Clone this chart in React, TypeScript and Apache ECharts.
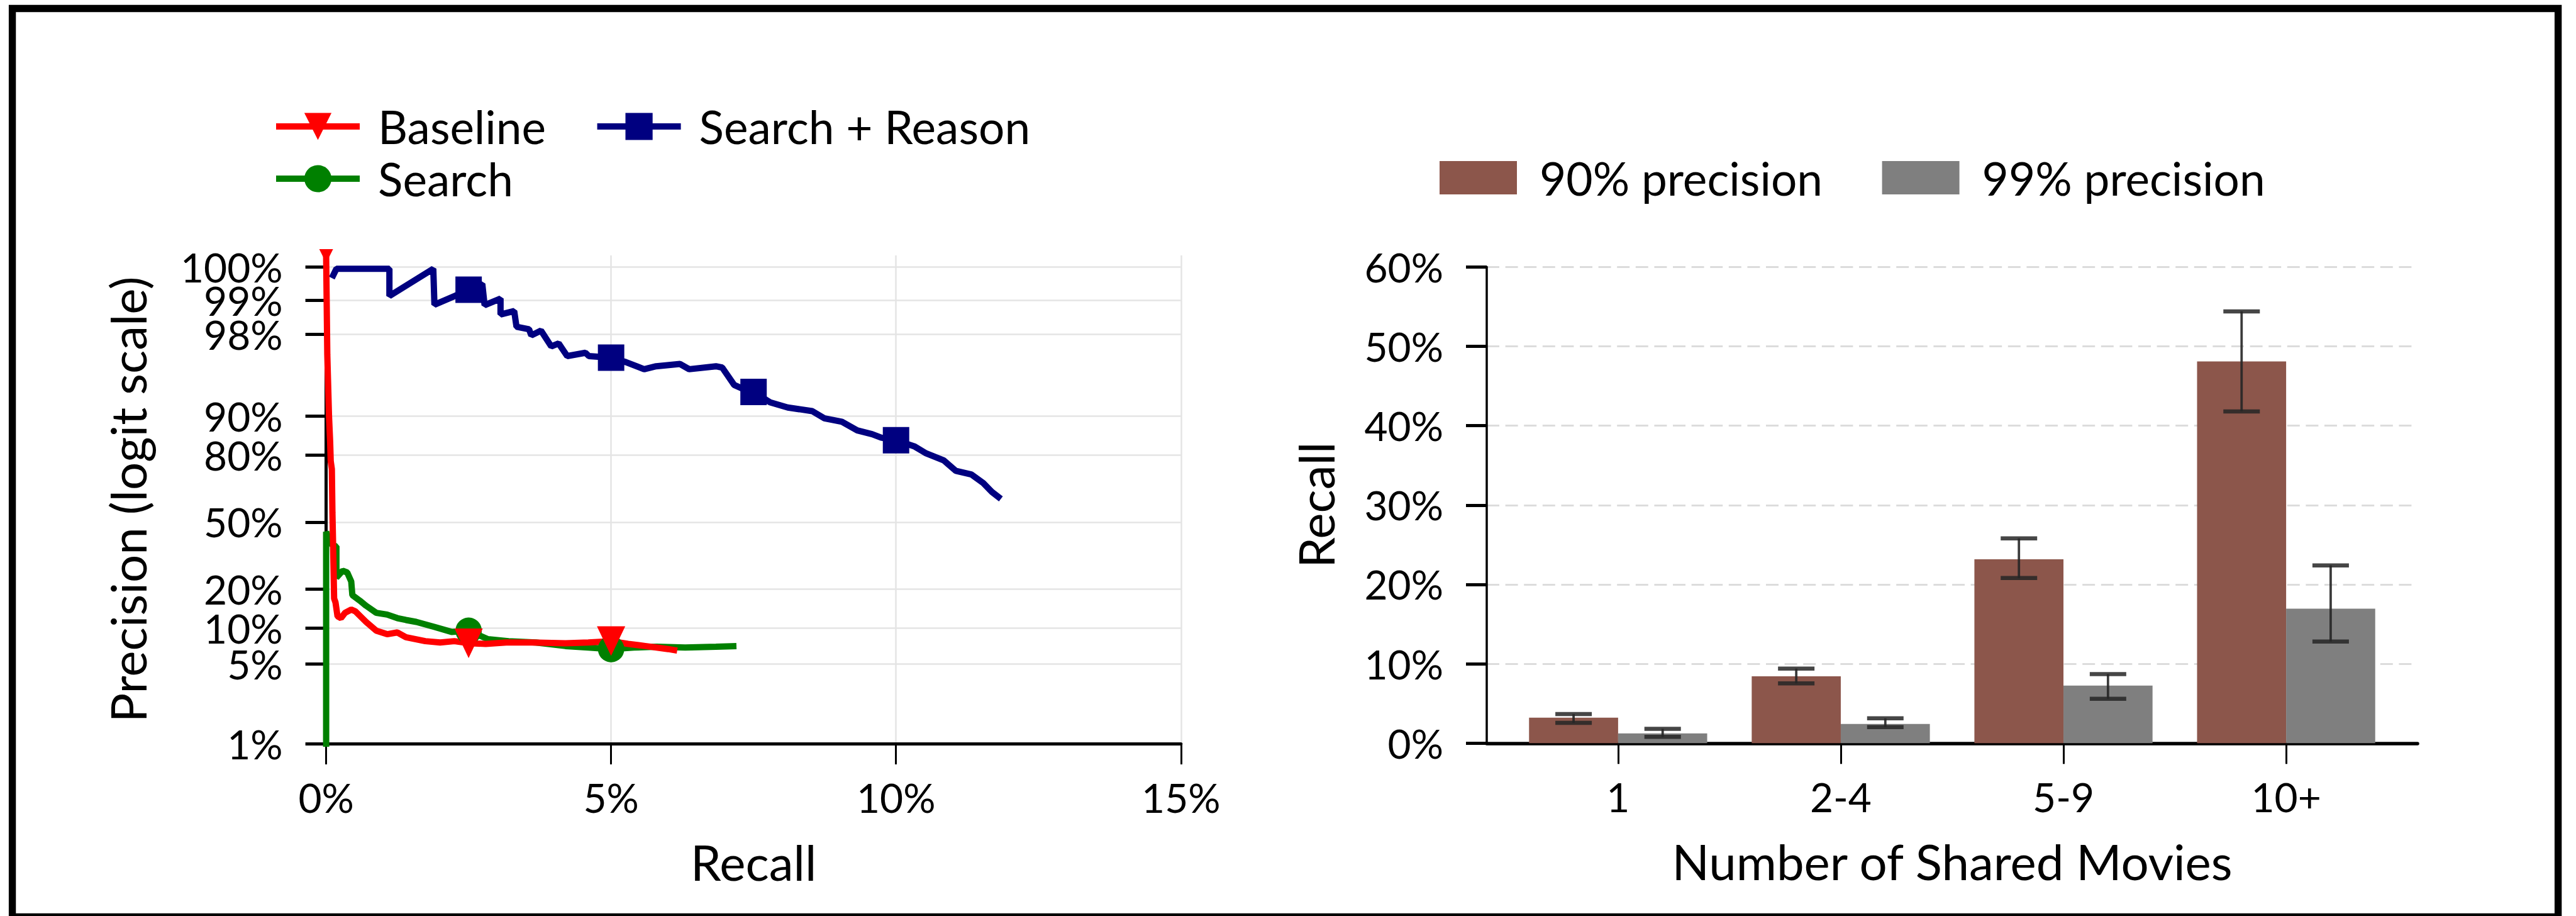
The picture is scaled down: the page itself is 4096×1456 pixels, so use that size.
import React, { useEffect, useRef } from 'react';
import * as echarts from 'echarts';

const W = 4096;
const H = 1456;
const FONT = 'Lato';

// ---------- Left panel: precision / recall curves (percent units) ----------
const searchReasonRecall = [0.1, 0.18, 1.11, 1.11, 1.88, 1.9, 2.26, 2.5, 2.74, 2.78, 3.06, 3.06, 3.3, 3.34, 3.56, 3.6, 3.77, 3.95, 4.08, 4.23, 4.55, 4.61, 5.0, 5.26, 5.58, 5.79, 6.21, 6.37, 6.84, 6.95, 7.16, 7.37, 7.5, 7.79, 8.1, 8.53, 8.74, 9.05, 9.32, 9.58, 9.74, 10.0, 10.32, 10.53, 10.84, 11.05, 11.32, 11.53, 11.68, 11.84];
const searchReasonPrecision = [99.37, 99.48, 99.48, 99.09, 99.48, 98.91, 99.09, 99.2, 99.29, 98.9, 99.04, 98.67, 98.76, 98.29, 98.2, 97.96, 98.15, 97.45, 97.6, 96.9, 97.1, 96.9, 96.8, 96.5, 95.97, 96.2, 96.37, 95.97, 96.2, 96.1, 94.5, 93.9, 93.7, 92.3, 91.5, 90.9, 89.6, 88.9, 87.0, 86.1, 85.2, 84.5, 82.8, 80.6, 78.2, 74.3, 72.9, 69.2, 65.2, 61.8];
const searchReasonMarks = [2.5, 5, 7.5, 10];

const searchRecall = [0, 0, 0.06, 0.12, 0.18, 0.18, 0.29, 0.37, 0.44, 0.46, 0.59, 0.7, 0.88, 1.07, 1.25, 1.4, 1.58, 1.9, 2.2, 2.5, 2.84, 3.2, 3.68, 4.2, 4.6, 5.0, 5.4, 5.8, 6.3, 6.84, 7.2];
const searchPrecision = [0.5, 45, 40, 38, 37.7, 24, 26.7, 26, 22.6, 18, 16.4, 15, 13.2, 12.8, 12, 11.6, 11.2, 10.2, 9.3, 9.5, 8.1, 7.8, 7.6, 7.1, 6.9, 6.7, 6.9, 7.0, 6.9, 7.0, 7.1];
const searchMarks = [2.5, 5];

const baselineRecall = [0, 0.02, 0.05, 0.07, 0.08, 0.1, 0.11, 0.12, 0.14, 0.164, 0.2, 0.26, 0.33, 0.44, 0.51, 0.7, 0.88, 1.07, 1.25, 1.4, 1.74, 2.0, 2.25, 2.5, 2.8, 3.16, 3.6, 4.2, 4.6, 5.0, 5.3, 5.6, 5.8, 6.0, 6.16];
const baselinePrecision = [99.6, 97, 90, 84, 78, 75, 55, 41, 17, 15.9, 12.4, 12.0, 13.2, 14.0, 13.6, 11.2, 9.5, 8.9, 9.2, 8.4, 7.8, 7.6, 7.8, 7.5, 7.4, 7.6, 7.6, 7.5, 7.6, 7.8, 7.4, 7.1, 6.9, 6.7, 6.5];
const baselineMarks = [0, 2.5, 5];

const precisionTickValues = [1, 5, 10, 20, 50, 80, 90, 98, 99, 99.5];
const precisionTickLabels = ['1%', '5%', '10%', '20%', '50%', '80%', '90%', '98%', '99%', '100%'];
// the crowded top labels are split across two label rows so none is auto-hidden
const precisionLabelsMain = [1, 5, 10, 20, 50, 80, 90, 99];
const precisionLabelsExtra = [98, 99.5];
const precisionTop = 99.6;

// ---------- Right panel: recall by number of shared movies (percent) ----------
const sharedCategories = ['1', '2-4', '5-9', '10+'];
const recall90 = [3.22, 8.43, 23.16, 48.1];
const recall90Low = [2.56, 7.54, 20.8, 41.8];
const recall90High = [3.66, 9.4, 25.8, 54.4];
const recall99 = [1.24, 2.43, 7.25, 16.95];
const recall99Low = [0.79, 2.03, 5.6, 12.8];
const recall99High = [1.81, 3.13, 8.7, 22.4];

// ---------- helpers ----------
const logit = (pct: number) => {
  const p = pct / 100;
  return Math.log(p / (1 - p));
};

const leftGrid = { left: 518.6, top: 406, width: 1359.2, height: 776 };
const rightGrid = { left: 2364, top: 424.3, width: 1480, height: 757 };
const rightXMin = -0.59;
const rightXMax = 3.59;
const barWidth = (rightGrid.width * 0.4) / (rightXMax - rightXMin);
const LINE_W = 10;
const yMinLeft = logit(1);
const yMaxLeft = logit(precisionTop) + 0.013;

const tickFont = { fontFamily: FONT, fontSize: 64, color: '#000' };
const titleFont = { fontFamily: FONT, fontSize: 78, color: '#000' };
const legendFont = { fontFamily: FONT, fontSize: 73, color: '#000' };

const curve = (rs: number[], ps: number[]) => rs.map((r, i) => [r, logit(ps[i])]);

const precisionLabel = (v: number) => {
  let best = 0;
  precisionTickValues.forEach((t, i) => {
    if (Math.abs(logit(t) - v) < Math.abs(logit(precisionTickValues[best]) - v)) best = i;
  });
  return precisionTickLabels[best];
};

const markSize = (marks: number[], size: any, firstSize?: any) => (val: number[]) => {
  if (firstSize !== undefined && val[0] === 0 && marks.includes(0)) return firstSize;
  return marks.includes(val[0]) ? size : 0;
};

const errorSeries = (low: number[], high: number[], sign: number) => ({
  type: 'custom',
  xAxisIndex: 1,
  yAxisIndex: 1,
  z: 5,
  data: low.map((l, i) => [i, l, high[i]]),
  encode: { x: 0, y: [1, 2] },
  renderItem: (params: any, api: any) => {
    const x = api.value(0);
    const lo = api.coord([x, api.value(1)]);
    const hi = api.coord([x, api.value(2)]);
    const cx = lo[0] + (sign * barWidth) / 2;
    const half = 29;
    const stroke = '#262626';
    return {
      type: 'group',
      children: [
        { type: 'line', shape: { x1: cx, y1: lo[1], x2: cx, y2: hi[1] }, style: { stroke, lineWidth: 3.8, opacity: 0.9 } },
        { type: 'line', shape: { x1: cx - half, y1: lo[1], x2: cx + half, y2: lo[1] }, style: { stroke, lineWidth: 6.5, opacity: 0.85 } },
        { type: 'line', shape: { x1: cx - half, y1: hi[1], x2: cx + half, y2: hi[1] }, style: { stroke, lineWidth: 6.5, opacity: 0.85 } },
      ],
    };
  },
});

const lineLegendBase = {
  orient: 'vertical',
  top: 164.5,
  padding: 0,
  itemWidth: 133,
  itemHeight: 54,
  itemGap: 10,
  selectedMode: false,
  textStyle: { ...legendFont, padding: [0, 0, 0, 24] },
  lineStyle: { width: LINE_W },
  itemStyle: { borderWidth: 0 },
};

const barLegendBase = {
  orient: 'horizontal',
  top: 246,
  padding: 0,
  itemWidth: 123,
  itemHeight: 53,
  icon: 'rect',
  selectedMode: false,
  textStyle: { ...legendFont, padding: [0, 0, 0, 31] },
  itemStyle: { borderWidth: 0 },
};

const option: any = {
  animation: false,
  backgroundColor: '#ffffff',
  textStyle: { fontFamily: FONT },
  grid: [
    { ...leftGrid, outerBoundsMode: 'none', containLabel: false },
    { ...rightGrid, outerBoundsMode: 'none', containLabel: false },
  ],
  legend: [
    { ...lineLegendBase, left: 434, data: ['Baseline', 'Search'] },
    { ...lineLegendBase, left: 944.6, data: ['Search + Reason'] },
    { ...barLegendBase, left: 2289, data: ['90% precision'] },
    { ...barLegendBase, left: 2992.6, data: ['99% precision'] },
  ],
  xAxis: [
    {
      type: 'value',
      gridIndex: 0,
      min: 0,
      max: 15,
      interval: 5,
      name: 'Recall',
      nameLocation: 'middle',
      nameGap: 148.8,
      nameMoveOverlap: false,
      nameTextStyle: titleFont,
      axisLine: { show: true, onZero: false, lineStyle: { color: '#000', width: 5 } },
      axisTick: { show: true, length: 33, lineStyle: { color: '#000', width: 3 } },
      axisLabel: { ...tickFont, margin: 53, showMinLabel: true, showMaxLabel: true, formatter: (v: number) => `${v}%` },
      splitLine: { show: true, lineStyle: { color: '#e4e4e4', width: 2.5 } },
    },
    {
      type: 'value',
      gridIndex: 1,
      min: rightXMin,
      max: rightXMax,
      name: 'Number of Shared Movies',
      nameLocation: 'middle',
      nameGap: 148.8,
      nameMoveOverlap: false,
      nameTextStyle: titleFont,
      axisLine: { show: true, onZero: false, lineStyle: { color: '#000', width: 5.5 } },
      axisTick: { show: true, length: 33, customValues: sharedCategories.map((_, i) => i), lineStyle: { color: '#000', width: 3 } },
      axisLabel: {
        ...tickFont,
        margin: 53,
        customValues: sharedCategories.map((_, i) => i),
        formatter: (v: number) => sharedCategories[Math.round(v)] ?? '',
      },
      splitLine: { show: false },
    },
  ],
  yAxis: [
    {
      type: 'value',
      gridIndex: 0,
      min: yMinLeft,
      max: yMaxLeft,
      name: 'Precision (logit scale)',
      nameLocation: 'middle',
      nameGap: 277,
      nameMoveOverlap: false,
      nameTextStyle: titleFont,
      axisLine: { show: true, onZero: false, lineStyle: { color: '#000', width: 5 } },
      axisTick: { show: true, length: 33, customValues: precisionTickValues.map(logit), lineStyle: { color: '#000', width: 5 } },
      axisLabel: {
        ...tickFont,
        margin: 69,
        showMinLabel: true,
        showMaxLabel: true,
        customValues: precisionLabelsMain.map(logit),
        formatter: precisionLabel,
      },
      splitLine: { show: true, lineStyle: { color: '#e4e4e4', width: 2.5 } },
    },
    {
      type: 'value',
      gridIndex: 1,
      min: 0,
      max: 60,
      interval: 10,
      name: 'Recall',
      nameLocation: 'middle',
      nameGap: 233.2,
      nameMoveOverlap: false,
      nameTextStyle: titleFont,
      axisLine: { show: true, onZero: false, lineStyle: { color: '#000', width: 3.5 } },
      axisTick: { show: true, length: 33, lineStyle: { color: '#000', width: 5 } },
      axisLabel: { ...tickFont, margin: 69, showMinLabel: true, showMaxLabel: true, formatter: (v: number) => `${v}%` },
      splitLine: { show: true, lineStyle: { color: '#dcdcdc', width: 3.2, type: [20, 9.6] } },
    },
    {
      type: 'value',
      gridIndex: 0,
      position: 'left',
      offset: 0,
      min: yMinLeft,
      max: yMaxLeft,
      axisLine: { show: false, onZero: false },
      axisTick: { show: false },
      splitLine: { show: false },
      axisLabel: {
        ...tickFont,
        margin: 69,
        showMinLabel: true,
        showMaxLabel: true,
        customValues: precisionLabelsExtra.map(logit),
        formatter: precisionLabel,
      },
    },
  ],
  series: [
    {
      name: 'Search + Reason',
      type: 'line',
      xAxisIndex: 0,
      yAxisIndex: 0,
      data: curve(searchReasonRecall, searchReasonPrecision),
      color: '#000080',
      lineStyle: { width: LINE_W, color: '#000080' },
      itemStyle: { color: '#000080' },
      symbol: 'rect',
      symbolSize: markSize(searchReasonMarks, 42),
      showSymbol: true,
      clip: true,
      z: 3,
    },
    {
      name: 'Search',
      type: 'line',
      xAxisIndex: 0,
      yAxisIndex: 0,
      data: curve(searchRecall, searchPrecision),
      color: '#008000',
      lineStyle: { width: LINE_W, color: '#008000' },
      itemStyle: { color: '#008000' },
      symbol: 'circle',
      symbolSize: markSize(searchMarks, 42),
      showSymbol: true,
      clip: true,
      z: 3,
    },
    {
      name: 'Baseline',
      type: 'line',
      xAxisIndex: 0,
      yAxisIndex: 0,
      data: curve(baselineRecall, baselinePrecision),
      color: '#ff0000',
      lineStyle: { width: LINE_W, color: '#ff0000' },
      itemStyle: { color: '#ff0000' },
      symbol: 'triangle',
      symbolRotate: 180,
      symbolSize: markSize(baselineMarks, [45, 47], [22, 22]),
      showSymbol: true,
      clip: true,
      z: 3,
    },
    {
      name: '90% precision',
      type: 'bar',
      xAxisIndex: 1,
      yAxisIndex: 1,
      data: recall90.map((v, i) => [i, v]),
      barWidth,
      barGap: '0%',
      color: '#8c564b',
      itemStyle: { color: '#8c564b' },
    },
    {
      name: '99% precision',
      type: 'bar',
      xAxisIndex: 1,
      yAxisIndex: 1,
      data: recall99.map((v, i) => [i, v]),
      barWidth,
      barGap: '0%',
      color: '#7f7f7f',
      itemStyle: { color: '#7f7f7f' },
    },
    errorSeries(recall90Low, recall90High, -1),
    errorSeries(recall99Low, recall99High, 1),
  ],
  graphic: [
    {
      type: 'rect',
      silent: true,
      shape: { x: 19.6, y: 13.5, width: 4048, height: 1444 },
      style: { fill: 'none', stroke: '#000', lineWidth: 11.35 },
      z: 100,
    },
  ],
};

export default function App() {
  const ref = useRef<HTMLDivElement>(null);
  useEffect(() => {
    document.body.style.margin = '0';
    const chart = echarts.init(ref.current as HTMLDivElement, undefined, { renderer: 'svg', width: W, height: H });
    chart.setOption(option);
    return () => chart.dispose();
  }, []);
  return (
    <div
      ref={ref}
      style={{ position: 'fixed', left: 0, top: 0, width: W, height: H, background: '#fff' }}
    />
  );
}
